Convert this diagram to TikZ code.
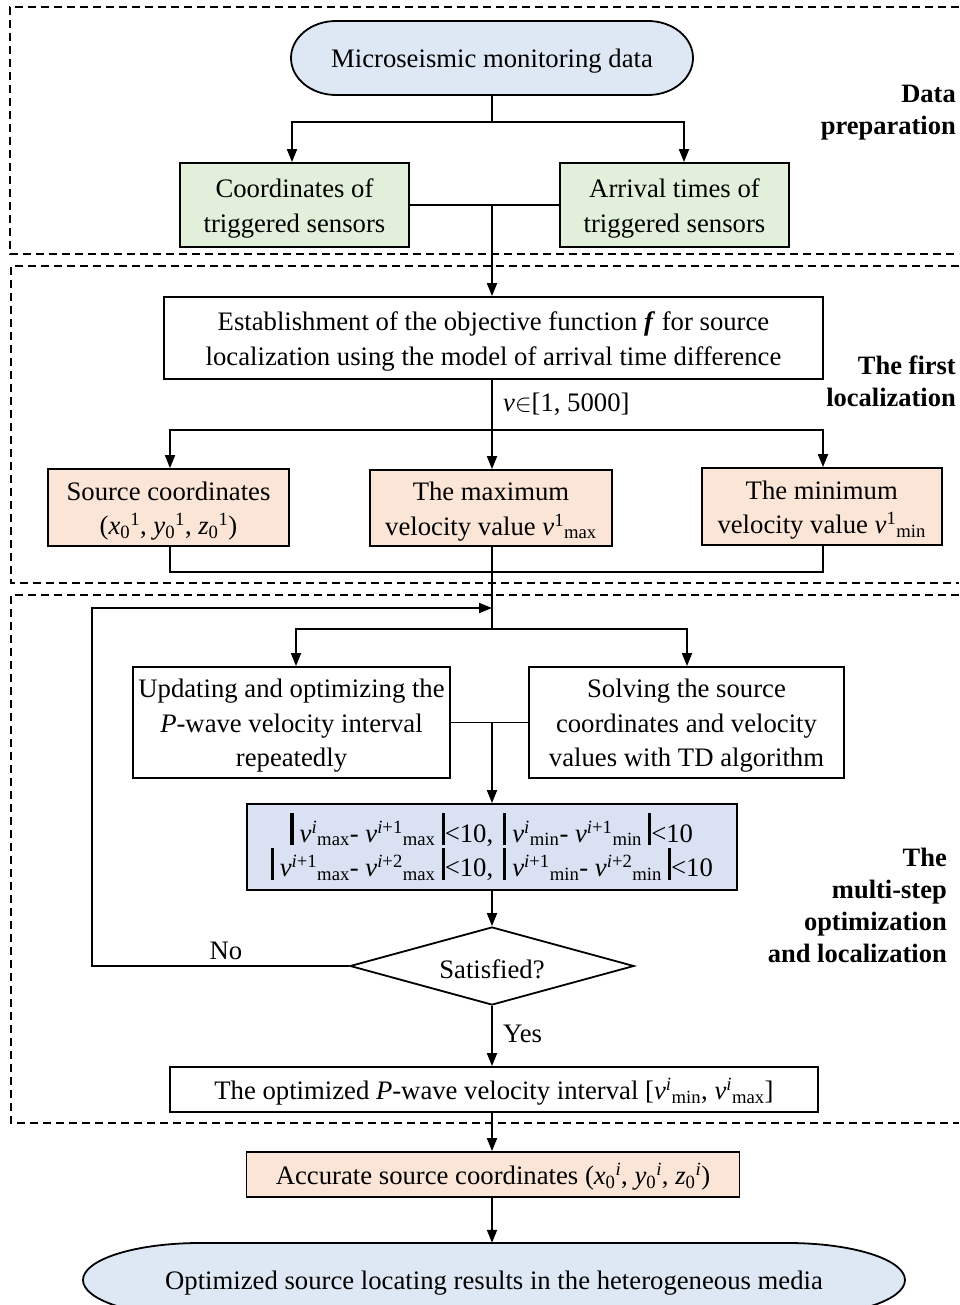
\documentclass[tikz,border=0pt]{standalone}
\usepackage{fontspec}
\setmainfont{Liberation Serif}
\usetikzlibrary{arrows.meta,shapes.geometric}
\definecolor{ovalblue}{HTML}{DEE8F4}
\definecolor{boxgreen}{HTML}{E2EFDA}
\definecolor{boxpeach}{HTML}{FBE5D6}
\definecolor{boxblue}{HTML}{D9E1F2}
\newcommand{\bodyfont}{\fontsize{26.7}{34.5}\selectfont}
\newcommand{\labfont}{\fontsize{26.5}{32}\selectfont\bfseries}
\newcommand{\vb}{\rule[-0.12em]{3.2pt}{1.2em}}
\newcommand{\lb}{\vb\hspace{6pt}}
\newcommand{\rb}{\hspace{6pt}\vb}
\newcommand{\ts}{\rule{0pt}{0.95em}}
\newcommand{\vsym}[2]{\textit{v}\textsuperscript{#1}\textsubscript{#2}}
\newcommand{\termpath}[6]{%
\path[#1] ({#2-#4+#6},{#3-#5}) -- ({#2+#4-#6},{#3-#5})
 .. controls ({#2+#4-#6+0.5523*#6},{#3-#5}) and ({#2+#4},{#3-0.5523*#5}) .. ({#2+#4},{#3})
 .. controls ({#2+#4},{#3+0.5523*#5}) and ({#2+#4-#6+0.5523*#6},{#3+#5}) .. ({#2+#4-#6},{#3+#5})
 -- ({#2-#4+#6},{#3+#5})
 .. controls ({#2-#4+#6-0.5523*#6},{#3+#5}) and ({#2-#4},{#3+0.5523*#5}) .. ({#2-#4},{#3})
 .. controls ({#2-#4},{#3-0.5523*#5}) and ({#2-#4+#6-0.5523*#6},{#3-#5}) .. ({#2-#4+#6},{#3-#5}) -- cycle;}
\begin{document}
\begin{tikzpicture}[x=1pt,y=-1pt,
  box/.style={draw, line width=1.8pt, align=center, inner sep=0pt, font=\bodyfont},
  conn/.style={line width=1.8pt},
  arr/.style={conn, -{Triangle[length=13pt,width=10pt]}},
  frame/.style={line width=1.6pt, dash pattern=on 8pt off 5pt},
  lab/.style={align=right, font=\labfont, inner sep=0pt, anchor=east},
  plain/.style={font=\bodyfont, inner sep=0pt, align=center}]
\useasboundingbox (0,0) rectangle (959,1305);
\clip (0,0) rectangle (959,1305);

% dashed frames
\draw[frame] (959,7) -- (10,7) -- (10,254) -- (959,254);
\draw[frame] (959,266) -- (11,266) -- (11,583) -- (959,583);
\draw[frame] (959,595) -- (11,595) -- (11,1123) -- (959,1123);

% stage labels
\node[lab] (lab1) at (956,113) {Data\\preparation};
\node[lab] (lab2) at (956,381) {The first\\localization};
\node[lab] (lab3) at (947,905) {The\\multi-step\\optimization\\and localization};

% start terminator
\termpath{draw, fill=ovalblue, line width=1.8pt}{492}{58}{201}{37}{45}
\node[plain, minimum width=402pt, minimum height=74pt] (start) at (492,58) {\ts Microseismic monitoring data};

% data preparation
\node[box, fill=boxgreen, minimum width=229pt, minimum height=84pt] (coord) at (294.5,205) {\ts Coordinates of\\triggered sensors};
\node[box, fill=boxgreen, minimum width=229pt, minimum height=84pt] (arriv) at (674.5,205) {\ts Arrival times of\\triggered sensors};
\coordinate (j1) at (492,122);
\draw[conn] (start.south) -- (j1);
\draw[arr] (j1) -| ([xshift=-2.5pt]coord.north);
\draw[arr] (j1) -| ([xshift=9.5pt]arriv.north);
\draw[conn] (coord.east) -- (arriv.west);
\coordinate (j2) at (492,205);

% first localization
\node[box, minimum width=659pt, minimum height=82pt] (estab) at (493.5,338) {\ts Establishment of the objective function \textbf{\textit{f}} for source\\localization using the model of arrival time difference};
\draw[arr] (j2) -- (j2 |- estab.north);
\coordinate (j3) at (492,430);
\draw[conn] (estab.south -| j3) -- (j3);
\node[plain, anchor=west] (vlab) at (503,404) {\textit{v}$\in$[1, 5000]};

\node[box, fill=boxpeach, minimum width=241pt, minimum height=77pt] (src) at (168.5,507.5) {\ts Source coordinates\\(\textit{x}\textsubscript{0}\textsuperscript{1}, \textit{y}\textsubscript{0}\textsuperscript{1}, \textit{z}\textsubscript{0}\textsuperscript{1})};
\node[box, fill=boxpeach, minimum width=242pt, minimum height=76pt] (vmax) at (491,508) {\ts The maximum\\velocity value \textit{v}\textsuperscript{1}\textsubscript{max}};
\node[box, fill=boxpeach, minimum width=240pt, minimum height=77pt] (vmin) at (821.75,506.5) {\ts The minimum\\velocity value \textit{v}\textsuperscript{1}\textsubscript{min}};
\draw[arr] (j3) -- (j3 |- vmax.north);
\draw[arr] (j3) -| ([xshift=1.5pt]src.north);
\draw[arr] (j3) -| ([xshift=1.25pt]vmin.north);
\coordinate (j4) at (492,572);
\draw[conn] ([xshift=1.5pt]src.south) |- (j4) -| ([xshift=1.25pt]vmin.south);
\coordinate (j5) at (492,629);
\draw[conn] (vmax.south -| j5) -- (j5);

% multi-step optimization
\node[box, minimum width=317pt, minimum height=111pt] (upd) at (291.5,722.5) {\ts Updating and optimizing the\\\textit{P}-wave velocity interval\\repeatedly};
\node[box, minimum width=315pt, minimum height=111pt] (solv) at (686.5,722.5) {\ts Solving the source\\coordinates and velocity\\values with TD algorithm};
\draw[arr] (j5) -| ([xshift=4.5pt]upd.north);
\draw[arr] (j5) -| ([xshift=0.5pt]solv.north);
\draw[conn] (upd.east) -- (solv.west);
\coordinate (j7) at (492,722.5);

\node[box, fill=boxblue, minimum width=490pt, minimum height=86pt] (cond) at (491.75,847) {%
\lb\vsym{\textit{i}}{max}- \vsym{\textit{i}+1}{max}\rb<10,\hspace{10pt}\lb\vsym{\textit{i}}{min}- \vsym{\textit{i}+1}{min}\rb<10\\
\lb\vsym{\textit{i}+1}{max}- \vsym{\textit{i}+2}{max}\rb<10,\hspace{10pt}\lb\vsym{\textit{i}+1}{min}- \vsym{\textit{i}+2}{min}\rb<10};
\draw[arr] (j7) -- (j7 |- cond.north);

\node[draw, diamond, aspect=3.65, minimum width=284pt, minimum height=78pt, inner sep=0pt, line width=1.8pt, font=\bodyfont] (diam) at (492,966) {\ts Satisfied?};
\draw[arr] (cond.south -| j7) -- (diam.north);

\coordinate (lp1) at (92,966);
\coordinate (lp2) at (92,608);
\coordinate (j6) at (492,608);
\draw[arr] (diam.west) -- (lp1) -- (lp2) -- (j6);
\node[plain] (nolab) at (226,951) {No};

\node[box, minimum width=648pt, minimum height=45pt] (optint) at (494,1089.5) {\ts The optimized \textit{P}-wave velocity interval [\vsym{\textit{i}}{min}, \vsym{\textit{i}}{max}]};
\draw[arr] (diam.south) -- (diam.south |- optint.north);
\node[plain, anchor=west] (yes) at (503,1034) {Yes};

% final stages
\node[box, fill=boxpeach, minimum width=493pt, minimum height=45pt] (acc) at (493,1174.5) {\ts Accurate source coordinates (\textit{x}\textsubscript{0}\textsuperscript{\textit{i}}, \textit{y}\textsubscript{0}\textsuperscript{\textit{i}}, \textit{z}\textsubscript{0}\textsuperscript{\textit{i}})};
\draw[arr] (optint.south -| j7) -- (acc.north -| j7);

\termpath{draw, fill=ovalblue, line width=1.8pt}{494}{1280}{411}{37}{117}
\node[plain, minimum width=822pt, minimum height=74pt] (endn) at (494,1280) {\ts Optimized source locating results in the heterogeneous media};
\draw[arr] (acc.south -| j7) -- (endn.north -| j7);
\end{tikzpicture}
\end{document}
